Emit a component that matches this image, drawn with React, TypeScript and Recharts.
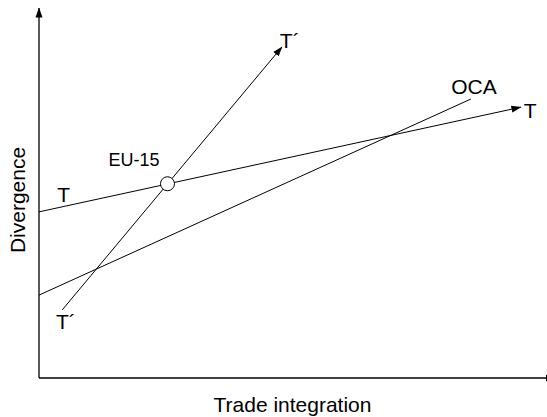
import { ComposedChart, Line, Scatter, XAxis, YAxis } from 'recharts'

// line endpoints (x: trade integration, y: divergence)
const tLine = [
  { x: 0, y: 44.9 },
  { x: 93.4, y: 73.2 },
]
const tPrimeLine = [
  { x: 4.5, y: 18.4 },
  { x: 47.1, y: 89.5 },
]
const ocaLine = [
  { x: 0, y: 22.4 },
  { x: 83.7, y: 75.4 },
]
const eu15Point = [{ x: 24.9, y: 52.5 }]

const yAxisLine = [
  { x: 0, y: 0 },
  { x: 0, y: 100 },
]
const xAxisLine = [
  { x: 0, y: 0 },
  { x: 100, y: 0 },
]

const curveLabels = [
  { x: 95.2, y: 72.2, text: 'T' },
  { x: 4.8, y: 49.7, text: 'T' },
  { x: 48.6, y: 91.1, text: 'T´' },
  { x: 5.2, y: 15.4, text: 'T´' },
  { x: 84.3, y: 78.9, text: 'OCA' },
]
const pointLabels = [{ x: 18.4, y: 58.9, text: 'EU-15' }]

const FONT = '"Liberation Sans", Arial, Helvetica, sans-serif'

const textShape = (size: number) => (p: any) => (
  <text
    x={p.cx}
    y={p.cy}
    textAnchor="middle"
    dominantBaseline="central"
    fontSize={size}
    fontFamily={FONT}
    fill="#000"
  >
    {p.payload.text}
  </text>
)

const circleShape = (p: any) => (
  <circle cx={p.cx} cy={p.cy} r={7} fill="#fff" stroke="#000" strokeWidth={1} />
)

export default function App() {
  return (
    <div style={{ position: 'absolute', left: 0, top: 0 }}>
      <ComposedChart
        width={547}
        height={417}
        margin={{ top: 8, right: -8, bottom: 0, left: 0 }}
      >
        <defs>
          <marker
            id="arrowHead"
            markerWidth={10}
            markerHeight={8}
            refX={9.5}
            refY={4}
            orient="auto"
            markerUnits="userSpaceOnUse"
          >
            <path d="M0,0.5 L10,4 L0,7.5 z" fill="#000" />
          </marker>
        </defs>
        <XAxis
          type="number"
          dataKey="x"
          domain={[0, 100]}
          axisLine={false}
          tick={false}
          tickLine={false}
          height={39}
          label={{
            content: (p: any) => (
              <text
                x={p.viewBox.x + 253.5}
                y={p.viewBox.y + 34}
                textAnchor="middle"
                fontSize={21}
                fontFamily={FONT}
                fill="#000"
              >
                Trade integration
              </text>
            ),
          }}
        />
        <YAxis
          type="number"
          dataKey="y"
          domain={[0, 100]}
          axisLine={false}
          tick={false}
          tickLine={false}
          width={39}
          label={{
            content: (p: any) => {
              const x = p.viewBox.x + 25
              const y = p.viewBox.y + p.viewBox.height / 2 + 7
              return (
                <text
                  x={x}
                  y={y}
                  transform={`rotate(-90, ${x}, ${y})`}
                  textAnchor="middle"
                  fontSize={21}
                  fontFamily={FONT}
                  fill="#000"
                >
                  Divergence
                </text>
              )
            },
          }}
        />
        <Line
          data={yAxisLine}
          dataKey="y"
          stroke="#000"
          strokeWidth={1.3}
          dot={false}
          activeDot={false}
          markerEnd="url(#arrowHead)"
          isAnimationActive={false}
        />
        <Line
          data={xAxisLine}
          dataKey="y"
          stroke="#000"
          strokeWidth={1.3}
          dot={false}
          activeDot={false}
          markerEnd="url(#arrowHead)"
          isAnimationActive={false}
        />
        <Line
          data={tLine}
          dataKey="y"
          stroke="#000"
          strokeWidth={1}
          dot={false}
          activeDot={false}
          markerEnd="url(#arrowHead)"
          isAnimationActive={false}
        />
        <Line
          data={tPrimeLine}
          dataKey="y"
          stroke="#000"
          strokeWidth={1}
          dot={false}
          activeDot={false}
          markerEnd="url(#arrowHead)"
          isAnimationActive={false}
        />
        <Line
          data={ocaLine}
          dataKey="y"
          stroke="#000"
          strokeWidth={1}
          dot={false}
          activeDot={false}
          isAnimationActive={false}
        />
        <Scatter data={eu15Point} shape={circleShape} isAnimationActive={false} />
        <Scatter data={curveLabels} shape={textShape(21)} isAnimationActive={false} />
        <Scatter data={pointLabels} shape={textShape(18)} isAnimationActive={false} />
      </ComposedChart>
    </div>
  )
}
